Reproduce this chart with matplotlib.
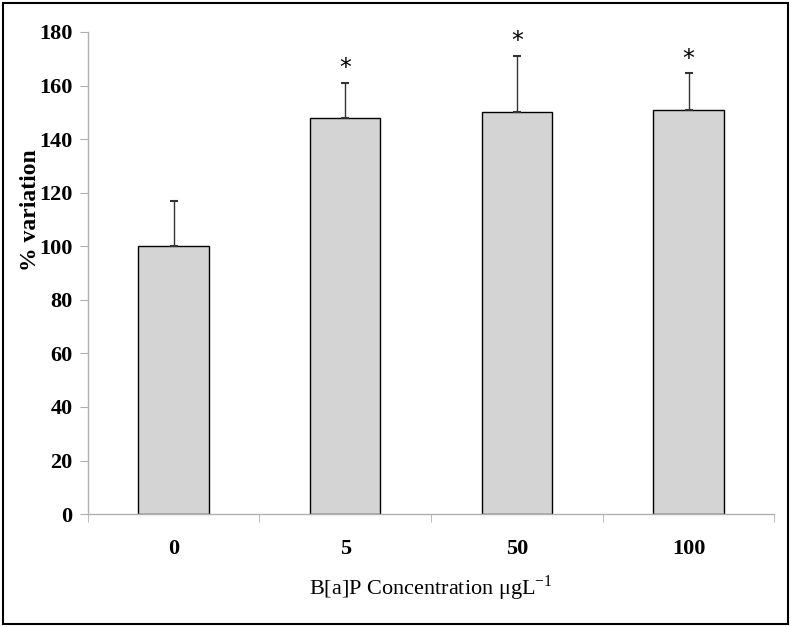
import matplotlib
matplotlib.use('Agg')
import matplotlib.pyplot as plt
from matplotlib.patches import Rectangle
import numpy as np

# data
categories = ['0', '5', '50', '100']
values = [100, 148, 150, 151]
errors = [17, 13, 21, 13.5]
significant = [False, True, True, True]

plt.rcParams['font.family'] = ['Liberation Serif', 'DejaVu Serif']
plt.rcParams['mathtext.fontset'] = 'custom'
plt.rcParams['mathtext.rm'] = 'Liberation Serif'

fig = plt.figure(figsize=(7.91, 6.27), dpi=100)
ax = fig.add_axes([0.111, 0.18, 0.868, 0.769])

x = np.arange(len(categories))
ax.bar(x, values, width=0.41, color='#d4d4d4', edgecolor='black', linewidth=1.0, zorder=2)
ax.errorbar(x, values, yerr=[np.zeros(len(errors)), errors], fmt='none',
            ecolor='#333333', elinewidth=1.0, capsize=3, capthick=1.5, zorder=3)

for xi, v, e, s in zip(x, values, errors, significant):
    if s:
        ax.text(xi, v + e + 1, '*', ha='center', va='bottom', fontsize=17,
                family='DejaVu Sans', color='black')

ax.set_xlim(-0.5, len(categories) - 0.5)
ax.set_ylim(0, 180)
ax.set_yticks(np.arange(0, 181, 20))
ax.set_xticks(x)
ax.set_xticklabels(categories)
ax.set_xticks(np.arange(-0.5, len(categories)), minor=True)

for sp in ['top', 'right']:
    ax.spines[sp].set_visible(False)
for sp in ['left', 'bottom']:
    ax.spines[sp].set_color('#b0b0b0')
    ax.spines[sp].set_linewidth(1.0)

ax.tick_params(axis='y', direction='out', length=6, color='#b0b0b0', labelsize=16, pad=5)
ax.tick_params(axis='x', which='major', length=0, labelsize=16, pad=18)
ax.tick_params(axis='x', which='minor', direction='out', length=6, color='#b0b0b0')
for lab in ax.get_xticklabels() + ax.get_yticklabels():
    lab.set_fontweight('bold')

ax.set_ylabel('% variation', fontsize=17, fontweight='bold')
ax.yaxis.set_label_coords(-0.068, 0.63)
ax.set_xlabel('B[a]P Concentration μgL$^{\\mathrm{-1}}$', fontsize=16, labelpad=10)

fig.patches.append(Rectangle((0.004, 0.004), 0.992, 0.992, transform=fig.transFigure,
                             fill=False, edgecolor='black', linewidth=1.5))

fig.savefig('out.png', dpi=100)
